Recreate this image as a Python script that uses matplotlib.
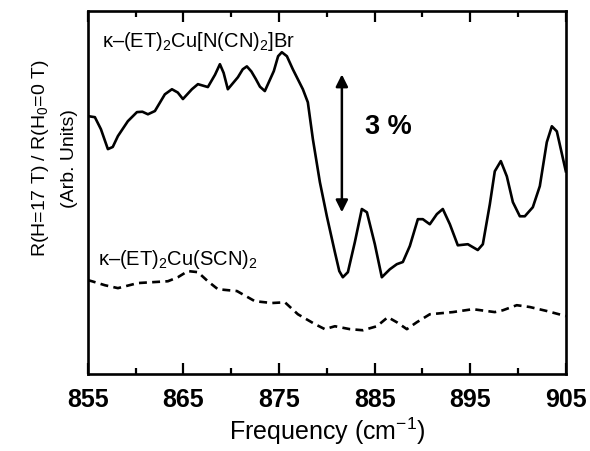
import numpy as np
import matplotlib.pyplot as plt

plt.rcParams['font.family'] = ['Liberation Sans', 'DejaVu Sans']
plt.rcParams['mathtext.fontset'] = 'custom'
plt.rcParams['mathtext.rm'] = 'Liberation Sans'
plt.rcParams['mathtext.it'] = 'Liberation Sans:italic'
plt.rcParams['mathtext.bf'] = 'Liberation Sans:bold'

# kappa-(ET)2Cu[N(CN)2]Br, solid
freq_br = [855.0, 855.73, 856.36, 857.09, 857.6, 858.14, 859.18, 860.13, 860.7, 861.28, 862.01, 863.05,
           863.79, 864.4, 864.94, 865.88, 866.51, 867.55, 868.3, 868.81, 869.2, 869.64, 870.69, 871.2,
           871.63, 872.1, 872.57, 873.0, 873.51, 874.45, 874.9, 875.29, 875.82, 876.44, 877.49, 878.01,
           878.54, 879.27, 880.0, 880.84, 881.3, 881.67, 882.2, 882.93, 883.66, 884.19, 885.02, 885.75,
           886.59, 887.32, 887.95, 888.68, 889.52, 890.04, 890.77, 891.51, 892.13, 892.87, 893.7, 894.75,
           895.79, 896.32, 897.05, 897.57, 898.2, 898.83, 899.46, 900.19, 900.71, 901.55,
           902.28, 903.01, 903.54, 904.06, 905.0]
ratio_br = [71.1, 70.8, 67.5, 62.0, 62.6, 65.6, 69.7, 72.2, 72.3, 71.6, 72.5, 77.1,
            78.5, 77.6, 75.8, 78.5, 79.9, 79.1, 82.5, 85.4, 83.0, 78.5, 81.8, 84.0,
            84.8, 83.4, 81.3, 79.2, 78.0, 83.5, 87.6, 88.7, 87.6, 84.0, 78.5, 74.9,
            64.7, 52.9, 43.5, 33.6, 28.4, 26.7, 28.1, 36.4, 45.5, 44.6, 35.8, 26.7,
            28.9, 30.3, 30.9, 35.3, 42.7, 42.7, 41.3, 44.1, 45.5, 41.3, 35.5, 35.8,
            34.2, 35.8, 46.8, 55.9, 58.7, 54.5, 47.4, 43.5, 43.5, 46.0,
            51.8, 63.9, 68.3, 66.9, 55.9]

# kappa-(ET)2Cu(SCN)2, dashed
freq_scn = [855.0, 855.42, 856.78, 858.14, 860.23, 863.37, 864.41, 865.46, 866.51, 867.55,
            868.6, 870.59, 872.47, 874.25, 875.61, 876.97, 878.74, 879.79, 880.84, 882.41,
            883.77, 885.23, 886.38, 887.32, 888.37, 889.41, 890.77, 893.18, 895.27, 897.57,
            898.41, 899.87, 901.23, 903.01, 905.0]
ratio_scn = [25.9, 25.6, 24.5, 23.7, 25.1, 25.6, 26.7, 28.4, 28.1, 25.6,
             23.4, 22.9, 20.1, 19.6, 19.8, 16.5, 13.8, 12.4, 13.2, 12.4,
             12.1, 13.2, 15.7, 14.3, 12.4, 14.3, 16.5, 17.1, 17.9, 17.1,
             17.6, 19.0, 18.5, 17.4, 16.0]

fig = plt.figure(figsize=(5.9, 4.52), dpi=100)
ax = fig.add_axes([0.149, 0.170, 0.810, 0.803])

ax.plot(freq_br, ratio_br, color='black', lw=1.9, solid_joinstyle='round')
ax.plot(freq_scn, ratio_scn, color='black', lw=1.9, dashes=(3.0, 2.0))

ax.set_xlim(855, 905)
ax.set_ylim(0, 100)
ax.set_xticks(np.arange(855, 906, 10))
ax.set_xticks(np.arange(860, 905, 10), minor=True)
ax.set_yticks([])
ax.tick_params(axis='x', which='both', direction='in', top=True, width=1.6)
ax.tick_params(axis='x', which='major', length=8, pad=9, labelsize=18)
ax.tick_params(axis='x', which='minor', length=4)
for lab in ax.get_xticklabels():
    lab.set_fontweight('bold')
for s in ax.spines.values():
    s.set_linewidth(1.9)

ax.set_xlabel('Frequency (cm$^{-1}$)', fontsize=18, labelpad=3)
fig.text(0.069, 0.650, 'R(H=17 T) / R(H$_0$=0 T)', rotation=90, fontsize=14,
         ha='center', va='center')
fig.text(0.117, 0.650, '(Arb. Units)', rotation=90, fontsize=14,
         ha='center', va='center')

ax.text(856.46, 90.4, 'κ–(ET)$_2$Cu[N(CN)$_2$]Br', fontsize=14.5, va='baseline')
ax.text(856.05, 30.3, 'κ–(ET)$_2$Cu(SCN)$_2$', fontsize=14.5, va='baseline')
ax.text(883.97, 66.4, '3 %', fontsize=19.5, fontweight='bold', va='baseline')

ax.annotate('', xy=(881.57, 82.6), xytext=(881.57, 44.6),
            arrowprops=dict(arrowstyle='<|-|>', color='black', lw=1.8,
                            mutation_scale=18, shrinkA=0, shrinkB=0))

fig.savefig('out.png', dpi=100)
